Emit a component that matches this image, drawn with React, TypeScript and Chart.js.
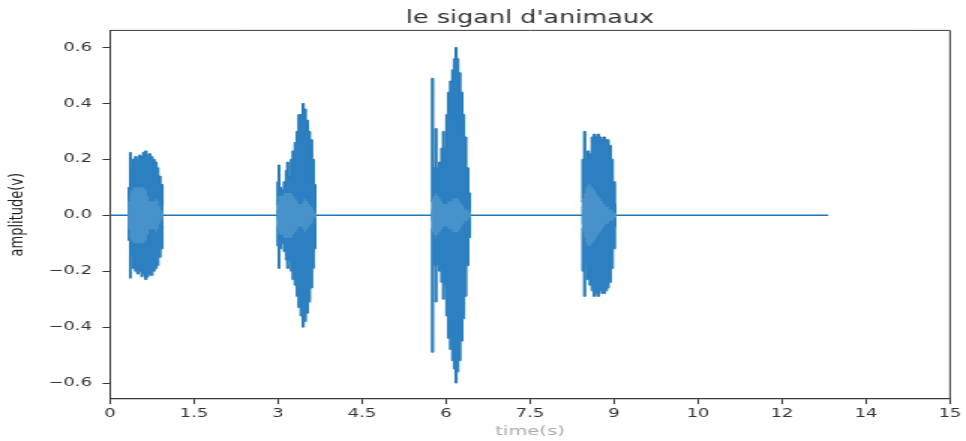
import React, { useEffect, useRef } from "react";
import { Chart, registerables } from "chart.js";

Chart.register(...registerables);

// ---- data (x in tick-slot units: slot i carries label xTickLabels[i]) ----
const xTickLabels = ["0", "1.5", "3", "4.5", "6", "7.5", "9", "10", "12", "14", "15"];
const yTickValues = [-0.6, -0.4, -0.2, 0, 0.2, 0.4, 0.6];
const signalStart = 0;
const signalEnd = 8.55;

const burst1Time = [0.21, 0.23, 0.24, 0.26, 0.28, 0.31, 0.33, 0.36, 0.38, 0.40, 0.43, 0.45, 0.47, 0.50, 0.52, 0.55, 0.57, 0.59, 0.62, 0.64];
const burst1Upper = [0.05, 0.10, 0.225, 0.16, 0.20, 0.21, 0.20, 0.215, 0.21, 0.225, 0.23, 0.215, 0.22, 0.21, 0.20, 0.19, 0.17, 0.14, 0.11, 0.04];
const burst1Lower = [-0.05, -0.09, -0.225, -0.15, -0.19, -0.20, -0.21, -0.20, -0.22, -0.21, -0.23, -0.22, -0.21, -0.215, -0.20, -0.19, -0.18, -0.15, -0.12, -0.04];
const burst1Inner = [0.02, 0.05, 0.08, 0.09, 0.10, 0.10, 0.10, 0.10, 0.10, 0.10, 0.09, 0.07, 0.05, 0.05, 0.05, 0.06, 0.05, 0.03, 0.02, 0.01];

const burst2Time = [1.98, 2.00, 2.01, 2.03, 2.05, 2.08, 2.10, 2.11, 2.14, 2.16, 2.18, 2.21, 2.23, 2.25, 2.28, 2.30, 2.32, 2.35, 2.37, 2.40, 2.42, 2.44, 2.46];
const burst2Upper = [0.04, 0.12, 0.18, 0.10, 0.09, 0.12, 0.16, 0.19, 0.14, 0.20, 0.23, 0.26, 0.30, 0.36, 0.36, 0.40, 0.38, 0.34, 0.30, 0.27, 0.20, 0.11, 0.03];
const burst2Lower = [-0.04, -0.11, -0.19, -0.12, -0.10, -0.13, -0.16, -0.19, -0.16, -0.20, -0.23, -0.25, -0.29, -0.33, -0.36, -0.40, -0.38, -0.35, -0.31, -0.26, -0.19, -0.12, -0.03];
const burst2Inner = [0.02, 0.05, 0.07, 0.07, 0.07, 0.08, 0.08, 0.08, 0.08, 0.08, 0.07, 0.06, 0.05, 0.04, 0.04, 0.05, 0.06, 0.05, 0.04, 0.03, 0.02, 0.01, 0.01];

const burst3Time = [3.82, 3.84, 3.86, 3.88, 3.90, 3.93, 3.95, 3.97, 3.99, 4.01, 4.03, 4.06, 4.08, 4.10, 4.12, 4.14, 4.16, 4.19, 4.21, 4.23, 4.26, 4.28, 4.30];
const burst3Upper = [0.05, 0.49, 0.17, 0.31, 0.17, 0.19, 0.24, 0.30, 0.24, 0.36, 0.44, 0.48, 0.52, 0.56, 0.60, 0.56, 0.51, 0.44, 0.36, 0.28, 0.17, 0.08, 0.03];
const burst3Lower = [-0.05, -0.49, -0.18, -0.31, -0.18, -0.20, -0.24, -0.30, -0.25, -0.36, -0.44, -0.48, -0.52, -0.55, -0.60, -0.56, -0.52, -0.45, -0.37, -0.29, -0.18, -0.08, -0.03];
const burst3Inner = [0.02, 0.06, 0.07, 0.08, 0.07, 0.06, 0.05, 0.04, 0.04, 0.04, 0.05, 0.05, 0.06, 0.06, 0.06, 0.06, 0.05, 0.04, 0.03, 0.02, 0.02, 0.01, 0.01];

const burst4Time = [5.61, 5.63, 5.65, 5.67, 5.69, 5.72, 5.74, 5.77, 5.79, 5.81, 5.84, 5.86, 5.88, 5.91, 5.93, 5.95, 5.98, 6.00, 6.03];
const burst4Upper = [0.05, 0.20, 0.30, 0.20, 0.23, 0.22, 0.28, 0.29, 0.28, 0.29, 0.28, 0.27, 0.28, 0.27, 0.27, 0.25, 0.20, 0.12, 0.04];
const burst4Lower = [-0.05, -0.20, -0.29, -0.18, -0.23, -0.25, -0.27, -0.29, -0.28, -0.29, -0.27, -0.28, -0.28, -0.27, -0.26, -0.24, -0.19, -0.12, -0.04];
const burst4Inner = [0.03, 0.06, 0.08, 0.10, 0.11, 0.11, 0.10, 0.09, 0.08, 0.07, 0.06, 0.05, 0.04, 0.03, 0.03, 0.02, 0.02, 0.01, 0.01];

const LINE_COLOR = "#1f77b4";
const FILL_COLOR = "#2c7fc0";
const INNER_COLOR = "#4892cb";
const AXIS_COLOR = "#3a3a3a";
const TEXT_COLOR = "#333333";

const framePlugin = {
  id: "frame",
  afterDraw(chart: any) {
    const { ctx, chartArea } = chart;
    ctx.save();
    ctx.strokeStyle = AXIS_COLOR;
    ctx.lineWidth = 1;
    ctx.beginPath();
    ctx.moveTo(chartArea.left, chartArea.top);
    ctx.lineTo(chartArea.right, chartArea.top);
    ctx.lineTo(chartArea.right, chartArea.bottom);
    ctx.stroke();
    ctx.restore();
  },
};

export default function App() {
  const ref = useRef<HTMLCanvasElement>(null);

  useEffect(() => {
    document.body.style.margin = "0";
    if (!ref.current) return;

    const bursts = [
      { time: burst1Time, upper: burst1Upper, lower: burst1Lower, inner: burst1Inner },
      { time: burst2Time, upper: burst2Upper, lower: burst2Lower, inner: burst2Inner },
      { time: burst3Time, upper: burst3Upper, lower: burst3Lower, inner: burst3Inner },
      { time: burst4Time, upper: burst4Upper, lower: burst4Lower, inner: burst4Inner },
    ];

    const datasets: any[] = [
      {
        label: "signal",
        data: [
          { x: signalStart, y: 0 },
          { x: signalEnd, y: 0 },
        ],
        borderColor: LINE_COLOR,
        borderWidth: 1.6,
        pointRadius: 0,
        fill: false,
        order: 3,
      },
    ];
    bursts.forEach((b) => {
      datasets.push({
        label: "upper",
        data: b.time.map((t, i) => ({ x: t, y: b.upper[i] })),
        stepped: "middle",
        borderColor: LINE_COLOR,
        borderWidth: 1,
        backgroundColor: FILL_COLOR,
        fill: "+1",
        pointRadius: 0,
        order: 2,
      });
      datasets.push({
        label: "lower",
        data: b.time.map((t, i) => ({ x: t, y: b.lower[i] })),
        stepped: "middle",
        borderColor: LINE_COLOR,
        borderWidth: 1,
        fill: false,
        pointRadius: 0,
        order: 2,
      });
      datasets.push({
        label: "inner upper",
        data: b.time.map((t, i) => ({ x: t, y: b.inner[i] })),
        stepped: "middle",
        borderWidth: 0,
        borderColor: "rgba(0,0,0,0)",
        backgroundColor: INNER_COLOR,
        fill: "+1",
        pointRadius: 0,
        order: 1,
      });
      datasets.push({
        label: "inner lower",
        data: b.time.map((t, i) => ({ x: t, y: -b.inner[i] })),
        stepped: "middle",
        borderWidth: 0,
        borderColor: "rgba(0,0,0,0)",
        fill: false,
        pointRadius: 0,
        order: 1,
      });
    });

    const tickFont = { family: "'DejaVu Sans'", size: 12 };

    const chart = new Chart(ref.current, {
      type: "line",
      data: { datasets },
      plugins: [framePlugin],
      options: {
        responsive: false,
        animation: false,
        devicePixelRatio: 1,
        layout: { padding: { left: 0, right: 8.7, top: 0, bottom: 0 } },
        plugins: {
          legend: { display: false },
          tooltip: { enabled: false },
          title: {
            display: true,
            text: "le siganl d'animaux",
            fullSize: false,
            color: TEXT_COLOR,
            font: { family: "'DejaVu Sans'", size: 17, weight: "normal" },
            padding: { top: 8, bottom: 2 },
          },
        },
        scales: {
          x: {
            type: "linear",
            min: 0,
            max: xTickLabels.length - 1,
            afterBuildTicks: (s: any) => {
              s.ticks = xTickLabels.map((_, i) => ({ value: i }));
            },
            afterFit: (s: any) => {
              s.height = 42;
            },
            ticks: {
              autoSkip: false,
              maxRotation: 0,
              color: TEXT_COLOR,
              font: tickFont,
              padding: 3,
              callback: (v: any) => xTickLabels[Math.round(Number(v))],
            },
            grid: {
              display: true,
              drawOnChartArea: false,
              drawTicks: true,
              tickLength: 5,
              color: AXIS_COLOR,
            },
            border: { display: true, color: AXIS_COLOR, width: 1.2 },
            title: {
              display: true,
              text: "time(s)",
              color: "#aaaaaa",
              font: { family: "'DejaVu Sans'", size: 13 },
              padding: { top: 0, bottom: 2 },
            },
          },
          y: {
            type: "linear",
            min: -0.657,
            max: 0.661,
            afterBuildTicks: (s: any) => {
              s.ticks = yTickValues.map((v) => ({ value: v }));
            },
            afterFit: (s: any) => {
              s.width = 73.3;
            },
            ticks: {
              color: TEXT_COLOR,
              font: tickFont,
              padding: 7,
              callback: (v: any) => {
                const n = Number(v);
                const s = Math.abs(n).toFixed(1);
                return n < -1e-9 ? "\u2212" + s : s;
              },
            },
            grid: {
              display: true,
              drawOnChartArea: false,
              drawTicks: true,
              tickLength: 5,
              color: AXIS_COLOR,
            },
            border: { display: true, color: AXIS_COLOR, width: 1 },
            title: {
              display: true,
              text: "amplitude(v)",
              color: "#222222",
              font: { family: "'DejaVu Sans'", size: 13 },
              padding: { top: 4, bottom: 0 },
            },
          },
        },
      } as any,
    });

    return () => chart.destroy();
  }, []);

  return (
    <div style={{ width: 966, height: 441, overflow: "hidden", background: "#fff" }}>
      <div style={{ width: 644, height: 441, transform: "scaleX(1.5)", transformOrigin: "0 0" }}>
        <canvas ref={ref} width={644} height={441} style={{ width: 644, height: 441, display: "block" }} />
      </div>
    </div>
  );
}
